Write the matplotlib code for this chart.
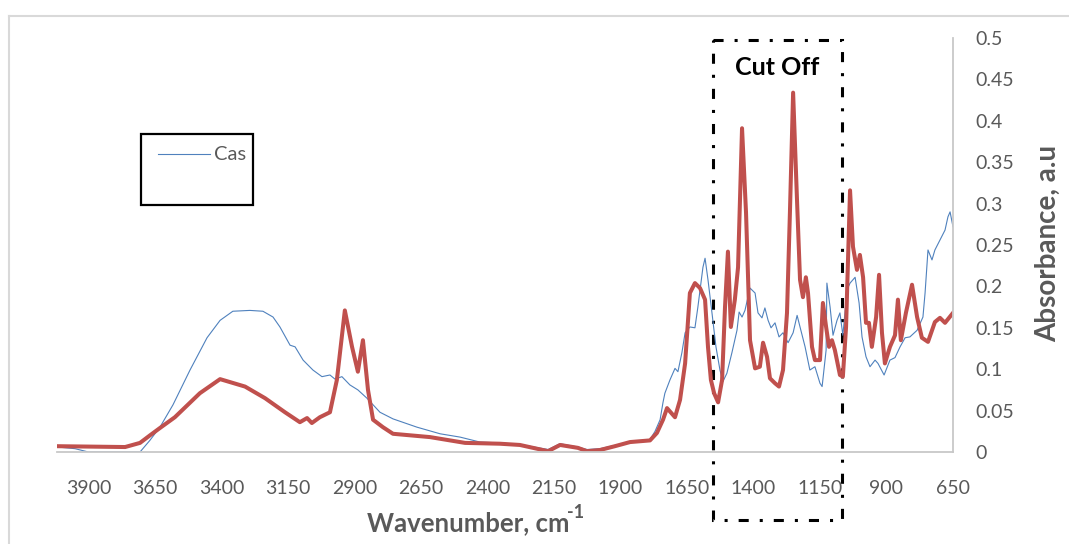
"""
FTIR spectrum with cut-off window
"""
import matplotlib
matplotlib.use("Agg")
import matplotlib.pyplot as plt
from matplotlib.lines import Line2D
from matplotlib.patches import Rectangle
from matplotlib.ticker import FuncFormatter

plt.rcParams["font.family"] = ["Lato", "DejaVu Sans"]

# 数据
red_wn = [4015, 3762, 3706, 3669, 3631, 3575, 3481, 3405, 3311, 3236, 3161, 3105, 3078, 3060, 3030,
          2992, 2966, 2936, 2909, 2887, 2868, 2849, 2830, 2793, 2755, 2616, 2484, 2353, 2278, 2172,
          2127, 2060, 2026, 1977, 1921, 1864, 1789, 1763, 1740, 1725, 1695, 1676, 1657, 1639, 1620,
          1601, 1582, 1571, 1560, 1548, 1533, 1518, 1507, 1496, 1485, 1470, 1458, 1443, 1428, 1413,
          1394, 1376, 1364, 1349, 1338, 1319, 1304, 1289, 1274, 1263, 1251, 1236, 1225, 1214, 1203,
          1195, 1180, 1169, 1150, 1139, 1127, 1116, 1105, 1094, 1075, 1064, 1052, 1037, 1026, 1011,
          1000, 988, 977, 966, 955, 939, 928, 917, 906, 887, 868, 857, 846, 827, 804,
          785, 767, 744, 718, 699, 680, 650]
red_abs = [0.007, 0.006, 0.011, 0.020, 0.029, 0.042, 0.071, 0.088, 0.079, 0.065, 0.048, 0.036, 0.041, 0.035, 0.042,
           0.048, 0.087, 0.171, 0.127, 0.097, 0.135, 0.075, 0.039, 0.030, 0.022, 0.018, 0.011, 0.010, 0.0085, 0.001,
           0.0085, 0.005, 0.001, 0.0024, 0.007, 0.012, 0.014, 0.023, 0.039, 0.053, 0.042, 0.063, 0.107, 0.192, 0.204,
           0.198, 0.184, 0.127, 0.087, 0.071, 0.060, 0.087, 0.175, 0.242, 0.151, 0.184, 0.223, 0.391, 0.289, 0.135,
           0.101, 0.103, 0.132, 0.115, 0.089, 0.083, 0.079, 0.099, 0.168, 0.289, 0.434, 0.301, 0.208, 0.187, 0.211,
           0.192, 0.127, 0.111, 0.111, 0.180, 0.151, 0.127, 0.135, 0.123, 0.093, 0.091, 0.151, 0.316, 0.248, 0.220,
           0.238, 0.211, 0.156, 0.156, 0.127, 0.163, 0.214, 0.144, 0.107, 0.127, 0.141, 0.184, 0.135, 0.168, 0.202,
           0.163, 0.138, 0.133, 0.157, 0.162, 0.156, 0.168]

cas_wn = [4015, 3950, 3900, 3706, 3669, 3631, 3582, 3518, 3454, 3405, 3357, 3293, 3244, 3206, 3180,
          3142, 3123, 3093, 3056, 3022, 2992, 2973, 2947, 2917, 2887, 2853, 2804, 2755, 2665, 2578,
          2503, 2428, 2353, 2278, 2172, 2127, 2060, 2026, 1977, 1921, 1864, 1789, 1770, 1751, 1740,
          1733, 1714, 1695, 1684, 1669, 1657, 1639, 1620, 1609, 1590, 1582, 1571, 1556, 1541, 1526,
          1515, 1500, 1481, 1462, 1454, 1443, 1432, 1413, 1394, 1383, 1368, 1357, 1345, 1334, 1319,
          1304, 1289, 1270, 1251, 1236, 1225, 1206, 1188, 1169, 1150, 1142, 1127, 1124, 1112, 1101,
          1086, 1075, 1064, 1048, 1037, 1018, 1003, 992, 977, 962, 943, 932, 909, 887, 868,
          849, 830, 812, 785, 763, 755, 744, 729, 718, 699, 680, 669, 661, 650]
cas_abs = [0.006, 0.004, 0.0, 0.0, 0.014, 0.030, 0.057, 0.099, 0.138, 0.159, 0.170, 0.171, 0.170, 0.163, 0.151,
           0.129, 0.127, 0.111, 0.099, 0.091, 0.093, 0.088, 0.091, 0.081, 0.075, 0.065, 0.048, 0.040, 0.030, 0.022,
           0.018, 0.012, 0.011, 0.009, 0.003, 0.010, 0.006, 0.003, 0.004, 0.008, 0.012, 0.015, 0.025, 0.039, 0.060,
           0.071, 0.087, 0.101, 0.097, 0.120, 0.144, 0.151, 0.150, 0.175, 0.223, 0.234, 0.208, 0.168, 0.127, 0.099,
           0.085, 0.095, 0.120, 0.147, 0.169, 0.163, 0.171, 0.198, 0.192, 0.168, 0.162, 0.174, 0.159, 0.150, 0.156,
           0.139, 0.144, 0.132, 0.144, 0.165, 0.151, 0.127, 0.099, 0.103, 0.083, 0.079, 0.123, 0.204, 0.175, 0.141,
           0.159, 0.168, 0.141, 0.196, 0.204, 0.211, 0.180, 0.139, 0.115, 0.103, 0.111, 0.107, 0.093, 0.111, 0.114,
           0.127, 0.138, 0.139, 0.147, 0.163, 0.192, 0.244, 0.232, 0.244, 0.256, 0.268, 0.284, 0.290, 0.272]

x_ticks = [3900, 3650, 3400, 3150, 2900, 2650, 2400, 2150, 1900, 1650, 1400, 1150, 900, 650]
y_ticks = [0, 0.05, 0.1, 0.15, 0.2, 0.25, 0.3, 0.35, 0.4, 0.45, 0.5]
cut_off = (1552, 1067)  # 截断区间

W, H = 1069, 544
fig = plt.figure(figsize=(W / 100, H / 100), dpi=100)
ax = fig.add_axes([57 / W, 1 - 452 / H, (953 - 57) / W, (452 - 38) / H])

gray = "#595959"
ax.plot(cas_wn, cas_abs, color="#4F81BD", lw=0.8)
ax.plot(red_wn, red_abs, color="#C0504D", lw=2.9, solid_joinstyle="round")

ax.set_xlim(4018, 650)
ax.set_ylim(0, 0.5)
ax.set_xticks(x_ticks)
ax.set_yticks(y_ticks)
ax.yaxis.set_major_formatter(FuncFormatter(lambda v, p: "%g" % v))
ax.yaxis.tick_right()
ax.tick_params(axis="both", length=0, labelsize=14, labelcolor=gray)
ax.tick_params(axis="x", pad=20)
ax.tick_params(axis="y", pad=16)
for lab in ax.get_yticklabels():
    lab.set_horizontalalignment("left")
for side in ["left", "top"]:
    ax.spines[side].set_visible(False)
for side in ["right", "bottom"]:
    ax.spines[side].set_color("#c8c8c8")
    ax.spines[side].set_linewidth(1.3)

# 截断框
rect = Rectangle((cut_off[0], 0.4976), cut_off[1] - cut_off[0], -0.58, fill=False,
                 edgecolor="black", lw=2.2, linestyle=(0, (3.3, 3.6, 1, 3.6)), clip_on=False)
ax.add_patch(rect)
ax.text((cut_off[0] + cut_off[1]) / 2, 0.464, "Cut Off", ha="center", va="center",
        fontsize=18, fontweight="bold", color="black")

# 轴标题
fig.text(1048 / W, 1 - 243 / H, "Absorbance, a.u", rotation=90, ha="center", va="center",
         fontsize=20, fontweight="bold", color=gray)
xl = fig.text(367 / W, 1 - 523 / H, "Wavenumber, cm", ha="left", va="center",
              fontsize=18.5, fontweight="bold", color=gray)
renderer = fig.canvas.get_renderer()
bb = xl.get_window_extent(renderer)
fig.text((bb.x1 - 2) / W, 1 - 512 / H, "-1", ha="left", va="center",
         fontsize=13, fontweight="bold", color=gray)

# 图例
fig.patches.append(Rectangle((141 / W, 1 - 205 / H), 112 / W, 71 / H, transform=fig.transFigure,
                             fill=False, edgecolor="black", lw=1.6))
fig.lines.append(Line2D([158 / W, 210 / W], [1 - 154 / H, 1 - 154 / H], transform=fig.transFigure,
                        color="#4F81BD", lw=0.8))
fig.text(214 / W, 1 - 155 / H, "Cas", ha="left", va="center", fontsize=14.5, color=gray)

# 图表边框
fig.lines.append(Line2D([9 / W, 9 / W], [1 - 16 / H, 0], transform=fig.transFigure, color="#d9d9d9", lw=1.5))
fig.lines.append(Line2D([9 / W, 1], [1 - 16 / H, 1 - 16 / H], transform=fig.transFigure, color="#d9d9d9", lw=1.5))

fig.savefig("out.png", dpi=100)
